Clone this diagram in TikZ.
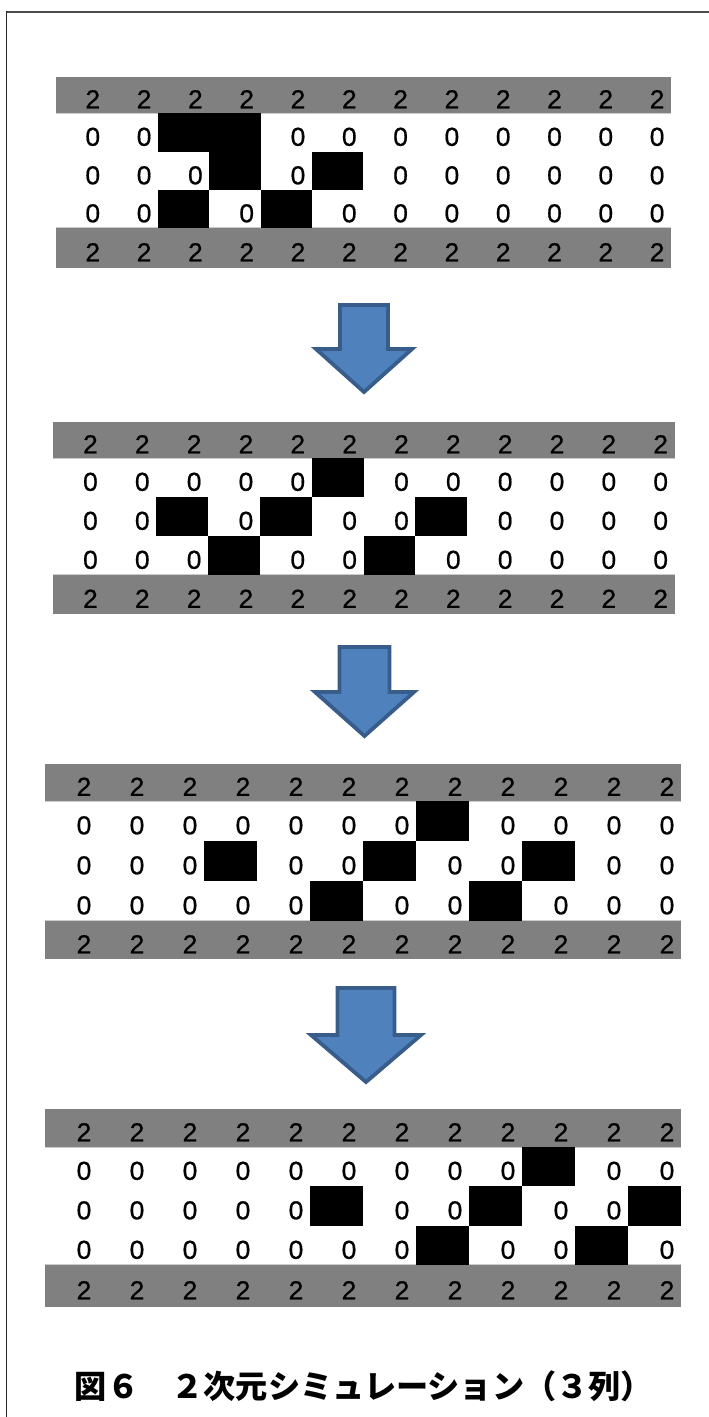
\documentclass[tikz,border=0pt]{standalone}
\usepackage{fontspec}
\setmainfont{Liberation Sans}
\newfontfamily\cjk{Noto Sans CJK JP}
\newfontfamily\digitfont{Liberation Sans}[FakeStretch=1.02,FakeBold=0.6]
\definecolor{bandgray}{HTML}{808080}
\definecolor{arrowfill}{HTML}{4F81BD}
\definecolor{arrowline}{HTML}{385D8A}
\tikzset{
  band/.style={fill=bandgray},
  cellfill/.style={fill=black},
  digit/.style={font=\digitfont\fontsize{26}{26}\selectfont, anchor=base, inner sep=0pt},
  blockarrow/.style={fill=arrowfill, draw=arrowline, line width=3.8pt, line join=miter},
  sepline/.style={draw=gray!40, line width=0.9pt},
  framebar/.style={draw=black!70, line width=2pt},
  frameside/.style={draw=black!85, line width=1.4pt},
  caption/.style={font=\cjk\bfseries\fontsize{32.2}{32.2}\selectfont, inner sep=0pt},
}
\def\setys#1,#2,#3,#4,#5,#6\relax{\def\ya{#1}\def\yb{#2}\def\yc{#3}\def\yd{#4}\def\ye{#5}\def\yf{#6}}
\newcommand\cellrow[4]{%
  \foreach \v [count=\c] in {#4} {%
    \if\v B
      \fill[cellfill] ({\gx+(\c-1)*\gw},#2) rectangle ({\gx+\c*\gw},#3);
    \else
      \node[digit] (#1c\c) at ({\gx+\c*\gw-14},{(#2+#3)/2+13.3}) {\v};
    \fi
  }%
}
\newcommand\drawgrid[7]{%
  \def\gx{#2}\def\gw{#3}%
  \setys#4\relax
  \fill[band] (\gx,\ya) rectangle ({\gx+12*\gw},\yb);
  \fill[band] (\gx,\ye) rectangle ({\gx+12*\gw},\yf);
  \draw[sepline] (\gx,{\yb+0.5}) -- ({\gx+12*\gw},{\yb+0.5});
  \draw[sepline] (\gx,{\ye-0.5}) -- ({\gx+12*\gw},{\ye-0.5});
  \cellrow{#1t}{\ya}{\yb}{2,2,2,2,2,2,2,2,2,2,2,2}
  \cellrow{#1a}{\yb}{\yc}{#5}
  \cellrow{#1b}{\yc}{\yd}{#6}
  \cellrow{#1c}{\yd}{\ye}{#7}
  \cellrow{#1d}{\ye}{\yf}{2,2,2,2,2,2,2,2,2,2,2,2}
}
\begin{document}
\begin{tikzpicture}[x=1pt,y=-1pt]
\useasboundingbox (0,0) rectangle (709,1417);
% frame
\coordinate (ftl) at (5.6,12);
\coordinate (ftr) at (709,12);
\coordinate (fbl) at (6.3,1417);
\draw[framebar] (ftl) -- (ftr);
\draw[frameside] (6.3,11) -- (fbl);
% grids
\drawgrid{g1}{55.5}{51.3}{77,113,152,190,228,268}
  {0,0,B,B,0,0,0,0,0,0,0,0}
  {0,0,0,B,0,B,0,0,0,0,0,0}
  {0,0,B,0,B,0,0,0,0,0,0,0}
\drawgrid{g2}{52.6}{51.84}{422,458,497,536,575,614}
  {0,0,0,0,0,B,0,0,0,0,0,0}
  {0,0,B,0,B,0,0,B,0,0,0,0}
  {0,0,0,B,0,0,B,0,0,0,0,0}
\drawgrid{g3}{45}{53}{764,801,841,881,921,959}
  {0,0,0,0,0,0,0,B,0,0,0,0}
  {0,0,0,B,0,0,B,0,0,B,0,0}
  {0,0,0,0,0,B,0,0,B,0,0,0}
\drawgrid{g4}{45}{53}{1109,1147,1186,1226,1265,1307}
  {0,0,0,0,0,0,0,0,0,B,0,0}
  {0,0,0,0,0,B,0,0,B,0,0,B}
  {0,0,0,0,0,0,0,B,0,0,B,0}
% block arrows
\draw[blockarrow] (340,305) -- (388,305) -- (388,349) -- (412,349) -- (364,392) -- (316,349) -- (340,349) -- cycle;
\draw[blockarrow] (339.5,647) -- (389.5,647) -- (389.5,692) -- (414,692) -- (364.5,736) -- (315,692) -- (339.5,692) -- cycle;
\draw[blockarrow] (337.5,988) -- (394.5,988) -- (394.5,1035) -- (421,1035) -- (366,1082) -- (311,1035) -- (337.5,1035) -- cycle;
% caption
\node[caption] (cap) at (364,1386) {図６　２次元シミュレーション（３列）};
\end{tikzpicture}
\end{document}
